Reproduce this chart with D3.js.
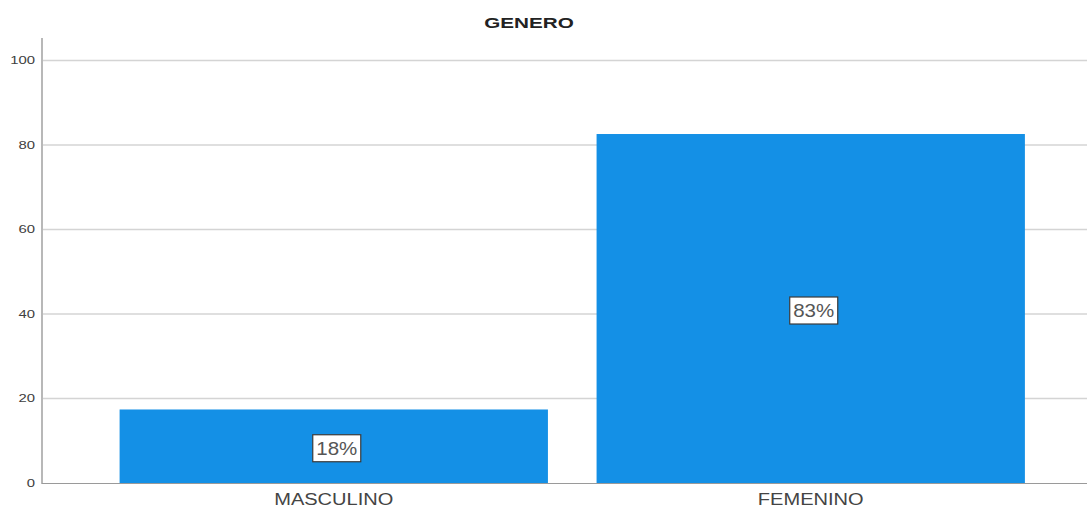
<!DOCTYPE html>
<html>
<head>
<meta charset="utf-8">
<script src="https://cdn.jsdelivr.net/npm/d3@7"></script>
<style>
  body { margin: 0; background: #fff; }
  text { font-family: "Liberation Sans", Arial, sans-serif; }
</style>
</head>
<body>
<div id="chart"></div>
<script>
// data
var categories = ["MASCULINO", "FEMENINO"];
var values = [17.4, 82.6];
var pctLabels = ["18%", "83%"];
var yTicks = [0, 20, 40, 60, 80, 100];
var title = "GENERO";

var W = 1088, H = 510;
var plotLeft = 43, plotRight = 1087, plotTop = 38;

var svg = d3.select("#chart").append("svg")
  .attr("width", W)
  .attr("height", H);

var y = d3.scaleLinear().domain([0, 100]).range([483, 60.5]);
var x = d3.scaleBand()
  .domain(categories)
  .range([95.75, 1048.75])
  .paddingInner(0.102)
  .paddingOuter(0.05);

// gridlines
svg.append("g").selectAll("line")
  .data(yTicks.filter(function(d){ return d > 0; }))
  .enter().append("line")
  .attr("x1", plotLeft).attr("x2", plotRight)
  .attr("y1", function(d){ return y(d); })
  .attr("y2", function(d){ return y(d); })
  .attr("stroke", "#d4d4d4")
  .attr("stroke-width", 1.6);

// y tick labels
svg.append("g").selectAll("text")
  .data(yTicks)
  .enter().append("text")
  .attr("transform", function(d){ return "translate(35," + y(d) + ") scale(1.35,1)"; })
  .attr("text-anchor", "end")
  .attr("dy", "0.35em")
  .attr("font-size", 11)
  .attr("fill", "#404040")
  .text(function(d){ return d; });

// bars
svg.append("g").selectAll("rect")
  .data(values)
  .enter().append("rect")
  .attr("x", function(d, i){ return x(categories[i]); })
  .attr("width", x.bandwidth())
  .attr("y", function(d){ return y(d); })
  .attr("height", function(d){ return y(0) - y(d); })
  .attr("fill", "#1490e6");

// axes lines
svg.append("line")
  .attr("x1", 42).attr("x2", 42)
  .attr("y1", plotTop).attr("y2", 484)
  .attr("stroke", "#b8b8b8").attr("stroke-width", 2);
svg.append("line")
  .attr("x1", 42).attr("x2", plotRight)
  .attr("y1", 483.5).attr("y2", 483.5)
  .attr("stroke", "#9a9a9a").attr("stroke-width", 1.2);

// x labels
svg.append("g").selectAll("text")
  .data(categories)
  .enter().append("text")
  .attr("transform", function(d){ return "translate(" + (x(d) + x.bandwidth() / 2) + ",504.5) scale(1.18,1)"; })
  .attr("text-anchor", "middle")
  .attr("font-size", 17)
  .attr("fill", "#444")
  .text(function(d){ return d; });

// value labels in boxes
var lab = svg.append("g").selectAll("g")
  .data(values)
  .enter().append("g")
  .attr("transform", function(d, i){
    var cx = x(categories[i]) + x.bandwidth() / 2 + 3;
    var cy = (y(d) + y(0)) / 2 + 2;
    return "translate(" + cx + "," + cy + ")";
  });
lab.append("rect")
  .attr("x", -24).attr("y", -13.5)
  .attr("width", 48).attr("height", 27)
  .attr("fill", "#fff")
  .attr("stroke", "#3a3a3a")
  .attr("stroke-width", 1.2);
lab.append("text")
  .attr("transform", "scale(1.14,1)")
  .attr("text-anchor", "middle")
  .attr("dy", "0.36em")
  .attr("font-size", 18)
  .attr("fill", "#555")
  .text(function(d, i){ return pctLabels[i]; });

// title
svg.append("text")
  .attr("transform", "translate(529,28) scale(1.38,1)")
  .attr("text-anchor", "middle")
  .attr("font-size", 15)
  .attr("font-weight", "bold")
  .attr("fill", "#222")
  .text(title);
</script>
</body>
</html>
